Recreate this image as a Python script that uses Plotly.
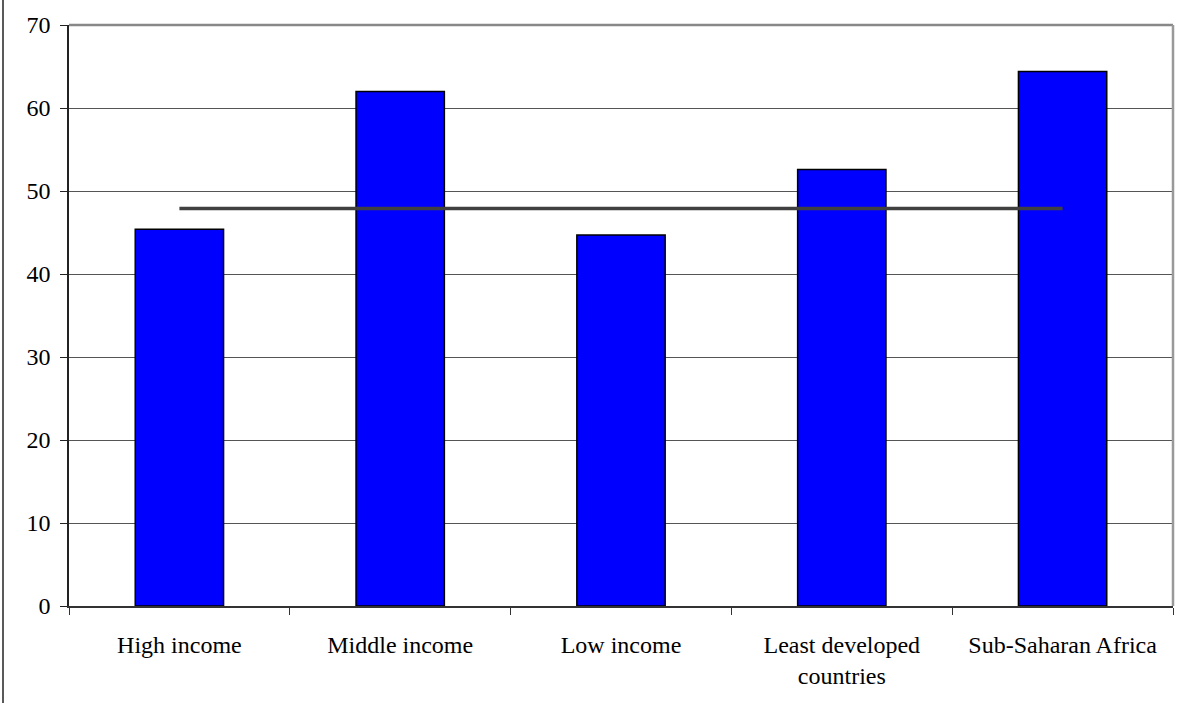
import plotly.graph_objects as go

categories = ["High income", "Middle income", "Low income",
              "Least developed<br>countries", "Sub-Saharan Africa"]
values = [45.4, 62.0, 44.7, 52.6, 64.4]
average = [47.9, 47.9, 47.9, 47.9, 47.9]
y_ticks = [0, 10, 20, 30, 40, 50, 60, 70]

W, H = 1189, 703
ML, MR, MT, MB = 69, 16, 25, 97
PW, PH = W - ML - MR, H - MT - MB

font = dict(family="Liberation Serif, Times New Roman, serif", size=24, color="#000000")

fig = go.Figure()
fig.add_trace(go.Bar(
    x=categories, y=values, width=0.4,
    marker=dict(color="#0000FF", line=dict(color="#000000", width=1.5)),
    showlegend=False, hoverinfo="x+y",
))
fig.add_trace(go.Scatter(
    x=categories, y=average, mode="lines",
    line=dict(color="#404040", width=3.5),
    showlegend=False,
))

fig.update_layout(
    width=W, height=H,
    margin=dict(l=ML, r=MR, t=MT, b=MB, pad=0),
    paper_bgcolor="white", plot_bgcolor="white",
    font=font,
    bargap=0.6,
    xaxis=dict(
        type="category", showgrid=False, zeroline=False,
        showline=True, linecolor="#333333", linewidth=2,
        ticks="outside", tickson="boundaries", ticklen=7,
        tickcolor="#333333", tickwidth=1,
        tickfont=font, ticklabelstandoff=16,
    ),
    yaxis=dict(
        range=[0, 70], tickvals=y_ticks, showgrid=True,
        gridcolor="#555555", gridwidth=1, zeroline=False,
        showline=True, linecolor="#222222", linewidth=1.5,
        ticks="outside", ticklen=7, tickcolor="#222222", tickwidth=1,
        tickfont=font, ticklabelstandoff=5,
    ),
    shapes=[
        # frame: top and right edges of the plot area
        dict(type="line", xref="paper", yref="paper", x0=0, x1=1, y0=1, y1=1,
             line=dict(color="#888888", width=2.5)),
        dict(type="line", xref="paper", yref="paper", x0=1, x1=1, y0=0, y1=1,
             line=dict(color="#999999", width=2.5)),
        # outer chart border on the left
        dict(type="line", xref="paper", yref="paper",
             x0=(3 - ML) / PW, x1=(3 - ML) / PW,
             y0=-MB / PH - 0.01, y1=1 + MT / PH + 0.01,
             line=dict(color="#222222", width=1.5)),
    ],
)

fig.write_html("out.html")
